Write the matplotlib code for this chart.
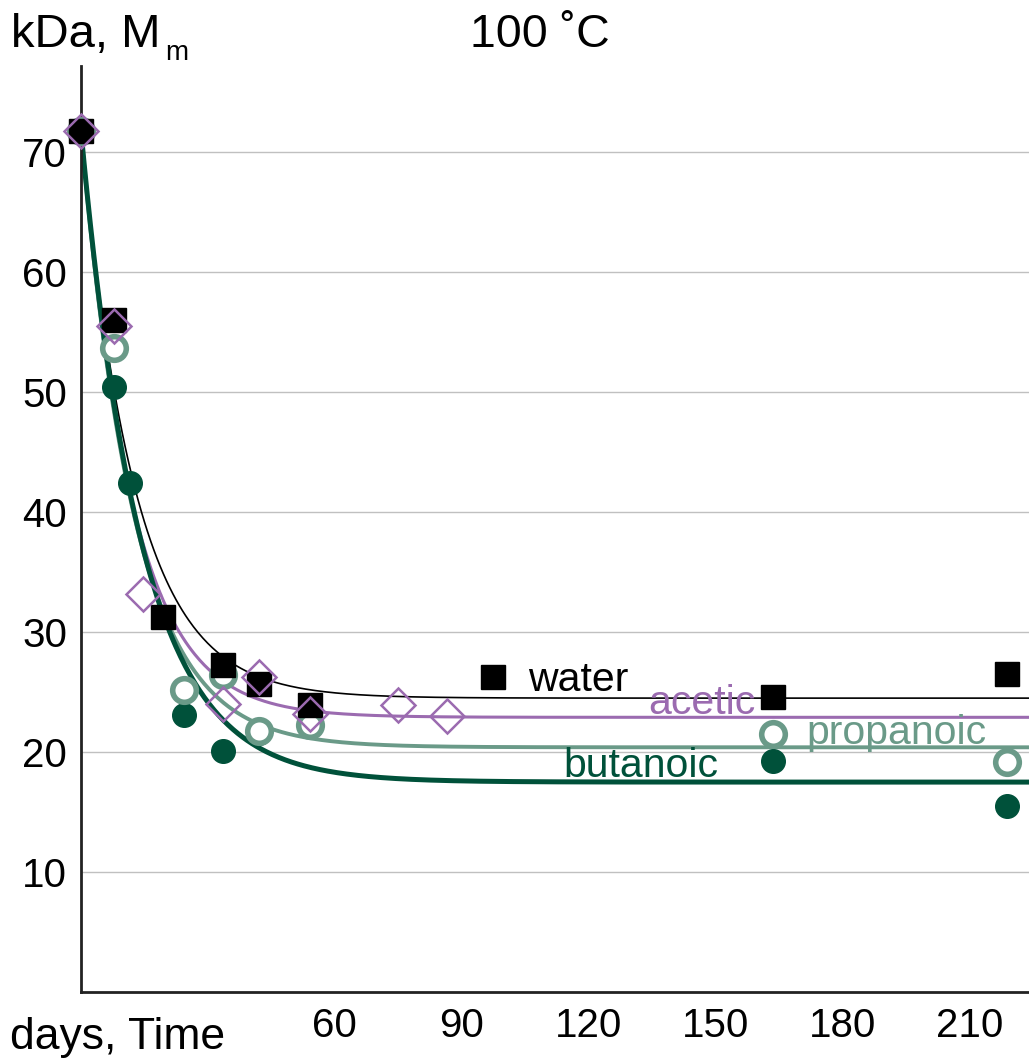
import numpy as np
import matplotlib
matplotlib.use("Agg")
import matplotlib.pyplot as plt

plt.rcParams['font.family'] = ['Liberation Sans', 'DejaVu Sans']

# ---- data ----
water_t = [0, 7.8, 19.4, 33.6, 42.1, 54.1, 97.4, 163.6, 218.9]
water_m = [71.8, 56.0, 31.3, 27.3, 25.7, 23.9, 26.25, 24.6, 26.5]

acetic_t = [0, 7.8, 14.7, 33.6, 42.1, 54.1, 74.9, 86.5]
acetic_m = [71.8, 55.5, 33.2, 24.0, 26.25, 23.2, 23.9, 23.0]

propanoic_t = [0, 7.8, 24.3, 33.6, 42.1, 54.1, 163.6, 218.9]
propanoic_m = [71.8, 53.7, 25.2, 26.4, 21.75, 22.3, 21.5, 19.2]

butanoic_t = [0, 7.8, 11.6, 24.3, 33.6, 42.1, 163.6, 218.9]
butanoic_m = [71.8, 50.4, 42.4, 23.1, 20.1, 21.6, 19.25, 15.5]

# exponential fit parameters: plateau, initial value, rate (1/day)
fit_names = ['water', 'acetic', 'propanoic', 'butanoic']
fit_plateau = [24.5, 22.9, 20.4, 17.5]
fit_start = [71.8, 71.8, 71.8, 71.8]
fit_rate = [0.078, 0.083, 0.078, 0.070]

yticks = [10, 20, 30, 40, 50, 60, 70]
xticks = [60, 90, 120, 150, 180, 210]

# ---- style ----
c_water = '#000000'
c_acetic = '#9b6bb0'
c_prop = '#6a9a88'
c_but = '#00513a'

fig = plt.figure(figsize=(10.29, 10.63), dpi=100)
ax = fig.add_axes([81/1029, 1 - 992/1063, 1 - 81/1029, (992 - 66)/1063])
ax.set_xlim(0, 224)
ax.set_ylim(0, 77.2)

for y in yticks:
    ax.axhline(y, color='#c0c0c0', lw=1.0, zorder=0)

t = np.linspace(0, 224, 600)
lws = [1.2, 2.2, 2.8, 3.6]
cols = [c_water, c_acetic, c_prop, c_but]
for p, s, k, lw, c in zip(fit_plateau, fit_start, fit_rate, lws, cols):
    ax.plot(t, p + (s - p) * np.exp(-k * t), color=c, lw=lw, zorder=2)

ax.plot(butanoic_t, butanoic_m, 'o', ms=17, color=c_but, mec=c_but, zorder=3, clip_on=False)
ax.plot(propanoic_t, propanoic_m, 'o', ms=17, mfc='white', mec=c_prop, mew=4, zorder=4, clip_on=False)
ax.plot(water_t, water_m, 's', ms=17, color=c_water, zorder=5, clip_on=False)
ax.plot(acetic_t, acetic_m, 'D', ms=17, mfc='none', mec=c_acetic, mew=1.8, zorder=6, clip_on=False)

fl = 29.5
ax.text(105.7, 26.0, 'water', color=c_water, fontsize=fl, ha='left', va='center')
ax.text(134, 24.1, 'acetic', color=c_acetic, fontsize=fl, ha='left', va='center')
ax.text(171.4, 21.6, 'propanoic', color=c_prop, fontsize=fl, ha='left', va='center')
ax.text(114, 18.8, 'butanoic', color=c_but, fontsize=fl, ha='left', va='center')

ax.set_yticks(yticks)
ax.set_xticks(xticks)
ax.tick_params(axis='both', length=0, labelsize=29)
ax.tick_params(axis='y', pad=10)
ax.tick_params(axis='x', pad=11)
for s in ['top', 'right']:
    ax.spines[s].set_visible(False)
for s in ['left', 'bottom']:
    ax.spines[s].set_linewidth(2)
    ax.spines[s].set_color('#222222')

fig.text(11/1029, 1 - 35/1063, 'kDa, M', fontsize=34, ha='left', va='center')
fig.text(165/1029, 1 - 53/1063, 'm', fontsize=20, ha='left', va='center')
fig.text(540/1029, 1 - 35/1063, '100 ˚C', fontsize=33.5, ha='center', va='center')
fig.text(10/1029, 1 - 1038/1063, 'days, Time', fontsize=32, ha='left', va='center')

fig.savefig('out.png', dpi=100)
